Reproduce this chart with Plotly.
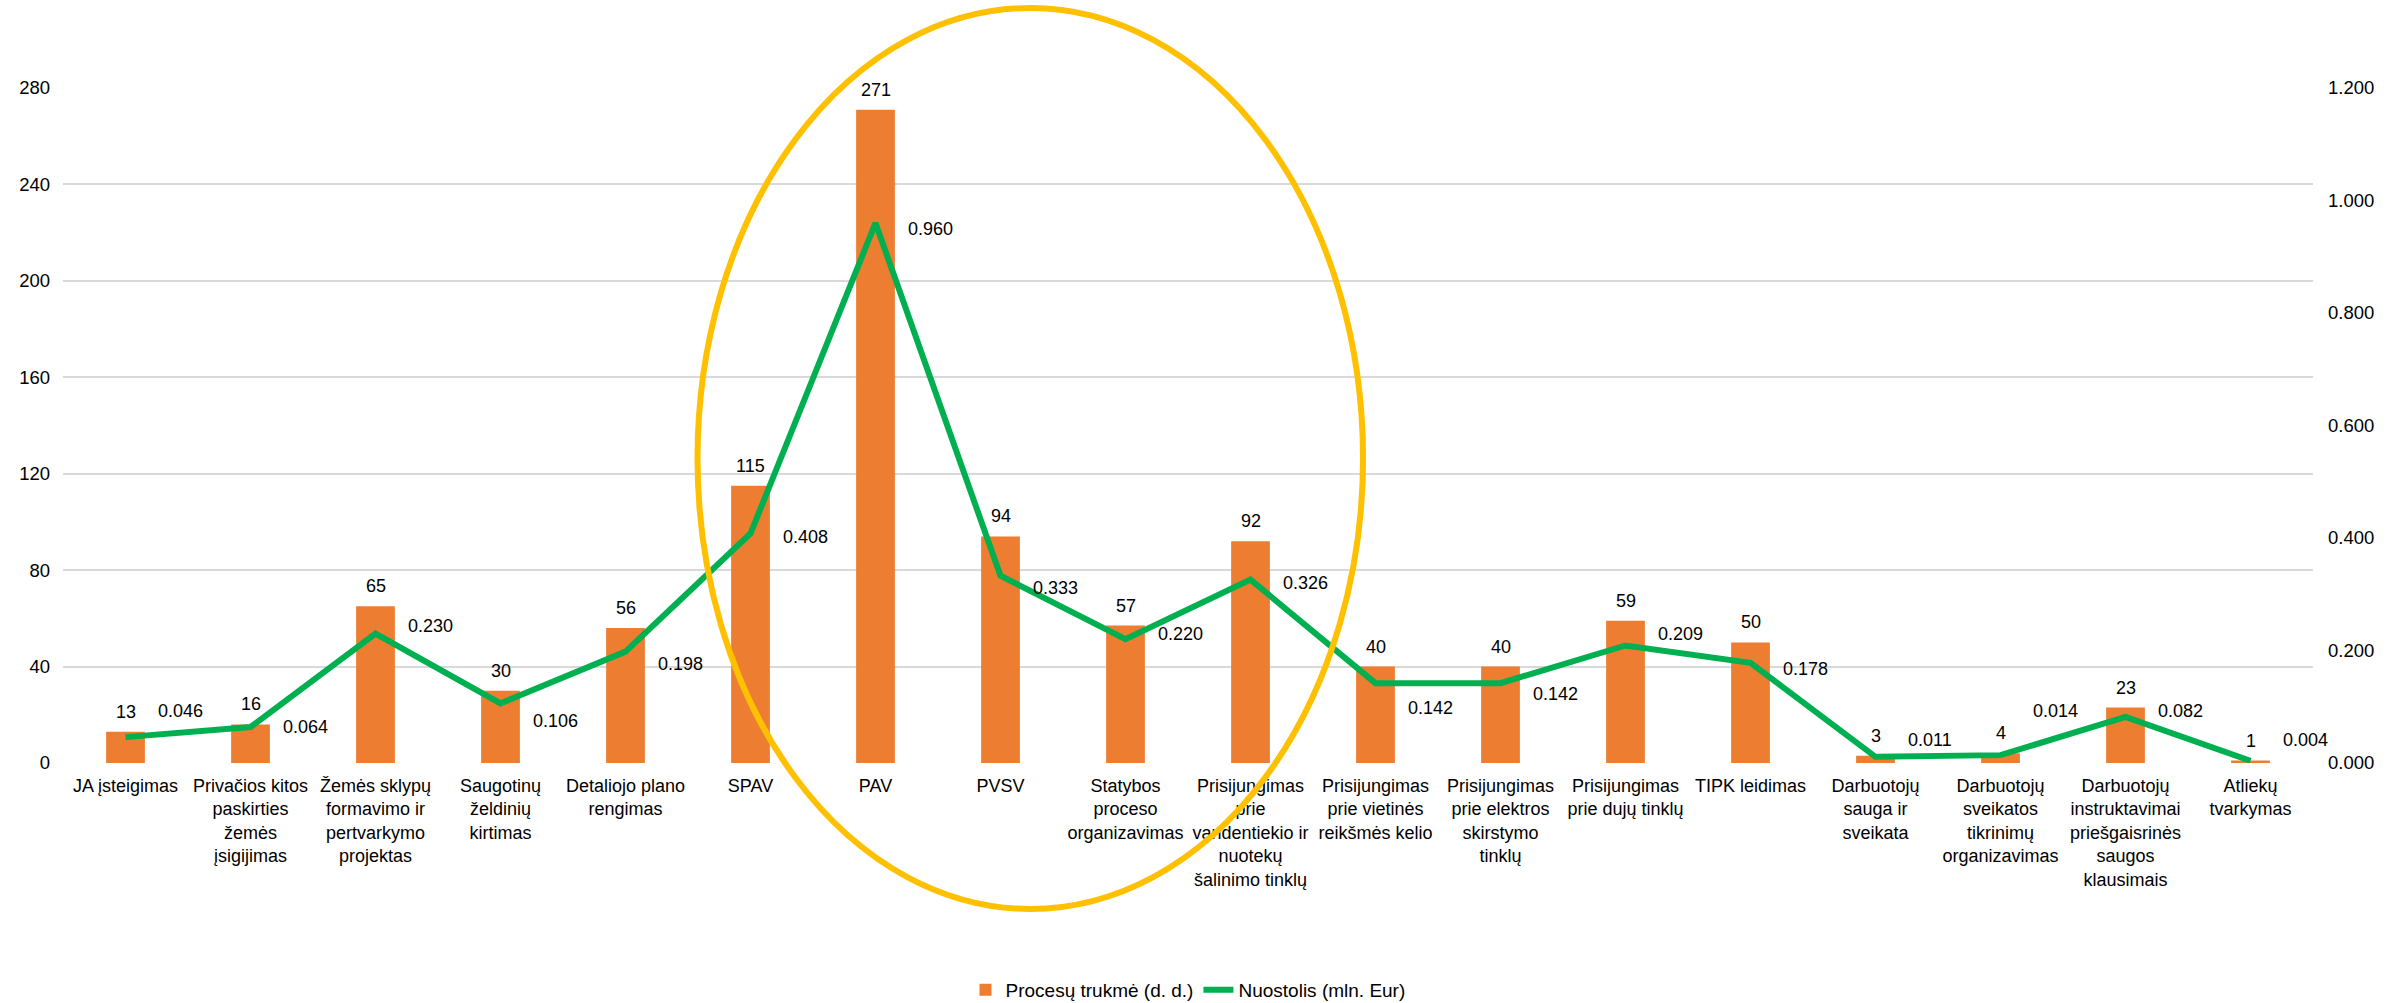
import plotly.graph_objects as go

categories = [
    "JA įsteigimas",
    "Privačios kitos<br>paskirties<br>žemės<br>įsigijimas",
    "Žemės sklypų<br>formavimo ir<br>pertvarkymo<br>projektas",
    "Saugotinų<br>želdinių<br>kirtimas",
    "Detaliojo plano<br>rengimas",
    "SPAV",
    "PAV",
    "PVSV",
    "Statybos<br>proceso<br>organizavimas",
    "Prisijungimas<br>prie<br>vandentiekio ir<br>nuotekų<br>šalinimo tinklų",
    "Prisijungimas<br>prie vietinės<br>reikšmės kelio",
    "Prisijungimas<br>prie elektros<br>skirstymo<br>tinklų",
    "Prisijungimas<br>prie dujų tinklų",
    "TIPK leidimas",
    "Darbuotojų<br>sauga ir<br>sveikata",
    "Darbuotojų<br>sveikatos<br>tikrinimų<br>organizavimas",
    "Darbuotojų<br>instruktavimai<br>priešgaisrinės<br>saugos<br>klausimais",
    "Atliekų<br>tvarkymas",
]
duration_days = [13, 16, 65, 30, 56, 115, 271, 94, 57, 92, 40, 40, 59, 50, 3, 4, 23, 1]
loss_mln_eur = [0.046, 0.064, 0.230, 0.106, 0.198, 0.408, 0.960, 0.333, 0.220, 0.326,
                0.142, 0.142, 0.209, 0.178, 0.011, 0.014, 0.082, 0.004]

left_ticks = [0, 40, 80, 120, 160, 200, 240, 280]
right_ticks = [0.0, 0.2, 0.4, 0.6, 0.8, 1.0, 1.2]

# label nudges (pixels) for line data labels, as placed in the original chart
line_label_dy = [26, 0, 8, -18, -12, -3, -6, -12, 5, -3, -25, -11, 11, -6, 17, 44, 6, 21]

BAR = "#ED7D31"
LINE = "#00B050"
FONT = "Liberation Sans, Arial, sans-serif"

fig = go.Figure()
fig.add_trace(go.Bar(
    x=categories, y=duration_days, name="Procesų trukmė (d. d.)",
    marker=dict(color=BAR, line=dict(width=0)), yaxis="y",
))
fig.add_trace(go.Scatter(
    x=categories, y=loss_mln_eur, name="Nuostolis (mln. Eur)", mode="lines",
    line=dict(color=LINE, width=6), yaxis="y2",
))

annotations = []
for c, v in zip(categories, duration_days):
    annotations.append(dict(x=c, y=v, xref="x", yref="y", text=str(v), showarrow=False,
                            yanchor="middle", yshift=20,
                            font=dict(family=FONT, size=18, color="#000")))
for c, v, dy in zip(categories, loss_mln_eur, line_label_dy):
    annotations.append(dict(x=c, y=v, xref="x", yref="y2", text=f"{v:.3f}", showarrow=False,
                            xanchor="left", yanchor="middle", xshift=30, yshift=dy,
                            font=dict(family=FONT, size=18, color="#000")))

fig.update_layout(
    width=2407, height=1003,
    margin=dict(l=63, r=94, t=88, b=240, autoexpand=False),
    paper_bgcolor="white", plot_bgcolor="white",
    bargap=0.69,
    font=dict(family=FONT, size=18, color="#000"),
    xaxis=dict(showline=False, ticks="", tickfont=dict(family=FONT, size=18, color="#000"),
               tickangle=0, automargin=False, ticklabelstandoff=10,
               range=[-0.5, len(categories) - 0.5], autorange=False),
    yaxis=dict(range=[0, 280], tickvals=left_ticks, showgrid=True, gridcolor="#D9D9D9",
               gridwidth=1.5, zeroline=False, showline=False, ticks="", automargin=False,
               tickfont=dict(family=FONT, size=18.5, color="#000"), ticklabelstandoff=12),
    yaxis2=dict(range=[0, 1.2], tickvals=right_ticks, tickformat=".3f", overlaying="y",
                side="right", showgrid=False, zeroline=False, showline=False, ticks="",
                automargin=False,
                tickfont=dict(family=FONT, size=18.5, color="#000"), ticklabelstandoff=14),
    legend=dict(orientation="h", x=0.5, xanchor="center", y=-0.336, yanchor="middle",
                font=dict(family=FONT, size=19, color="#000"), traceorder="normal"),
    annotations=annotations,
    shapes=[dict(type="circle", xref="paper", yref="paper",
                 x0=0.282, x1=0.5778, y0=-0.2163, y1=1.1185,
                 line=dict(color="#FFC000", width=6), fillcolor="rgba(0,0,0,0)")],
)

fig.write_html("out.html", config={"displayModeBar": False},
               post_script="document.body.style.margin='0';")
